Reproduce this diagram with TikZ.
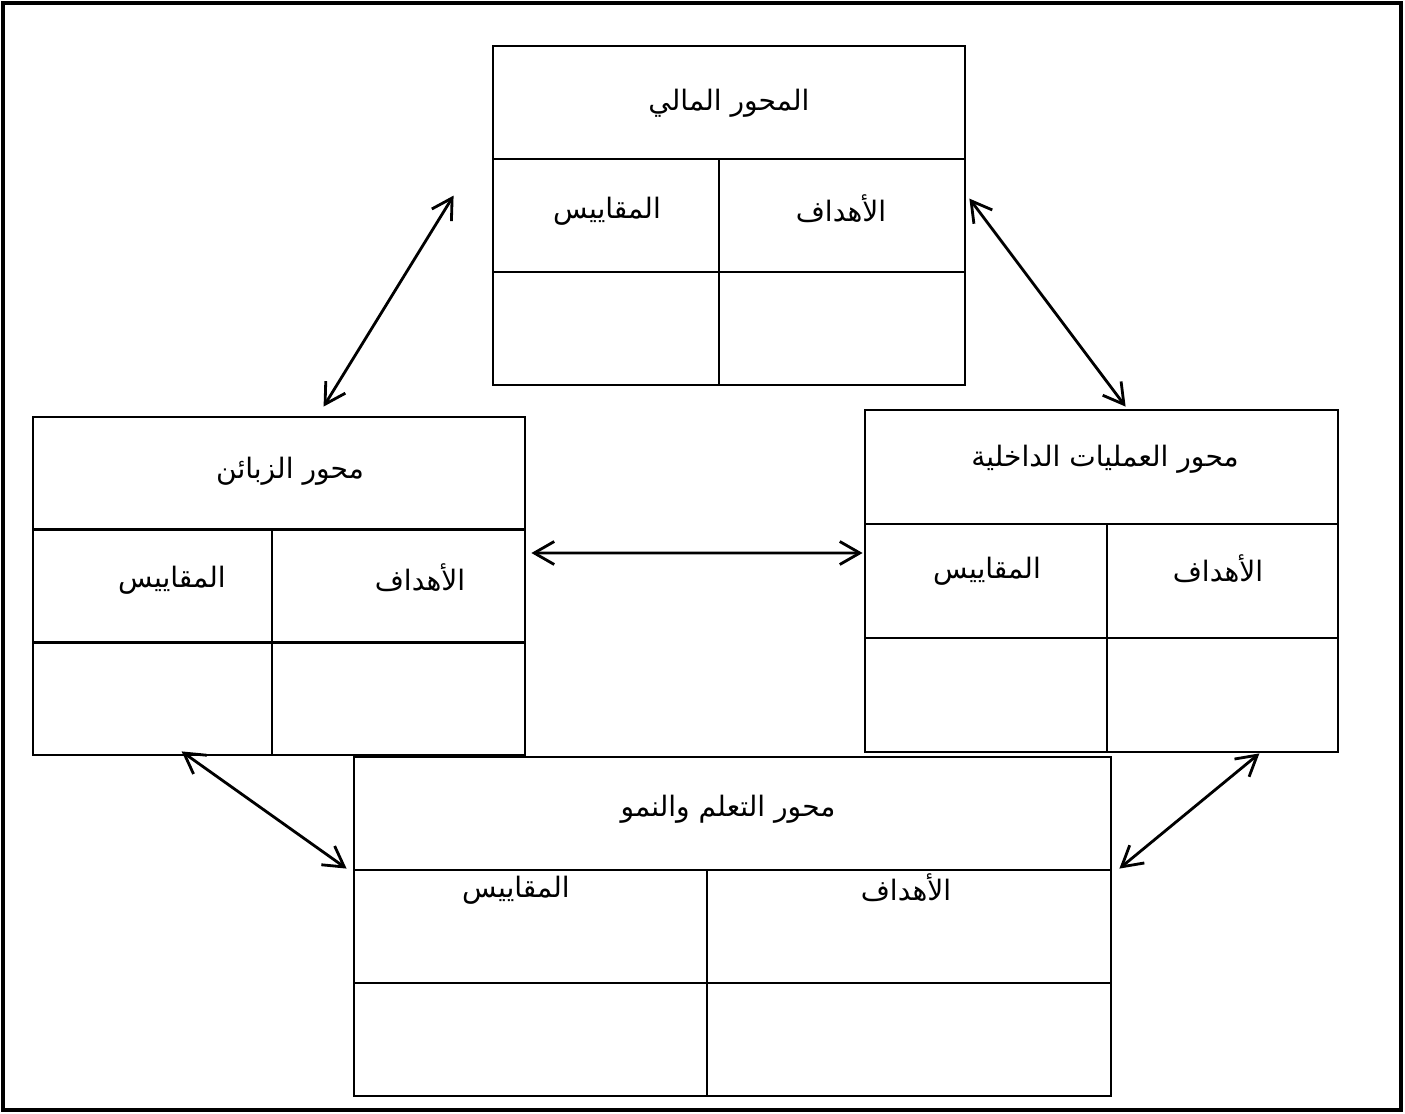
\documentclass[tikz,border=0pt]{standalone}
\usepackage{fontspec}
\newfontfamily\arabicfont[Script=Arabic]{DejaVu Sans}
\TeXXeTstate=1
\usetikzlibrary{arrows.meta}
\newcommand{\artext}[1]{{\arabicfont\fontsize{8}{9.5}\selectfont\beginR #1\endR}}

\begin{document}
\begin{tikzpicture}[line width=0.8pt,>={Straight Barb[length=2mm,width=2.3mm]}]
  \tikzset{axisbox/.style={draw,inner sep=0pt},
           lbl/.style={inner sep=1pt},
           link/.style={<->,line width=0.8pt}}
  \useasboundingbox (0,0) rectangle (14.05,11.13);
  \draw[line width=0.9pt] (0.03,0.03) rectangle (14.01,11.10);
  % the four axis tables
  \foreach \n/\cx/\cy/\w/\h/\dx in {fin/7.29/8.975/4.72/3.39/7.19,
      cust/2.79/5.27/4.92/3.38/2.72, int/11.015/5.32/4.73/3.42/11.07,
      learn/7.325/1.865/7.57/3.39/7.07}{
    \node[axisbox,minimum width=\w cm,minimum height=\h cm] (\n) at (\cx,\cy) {};
    \draw ({\cx-\w/2},{\cy+\h/6}) -- ({\cx+\w/2},{\cy+\h/6});
    \draw ({\cx-\w/2},{\cy-\h/6}) -- ({\cx+\w/2},{\cy-\h/6});
    \draw ({\dx},{\cy+\h/6}) -- ({\dx},{\cy-\h/2});
  }
  % titles
  \node[lbl] (finT) at (7.29,10.10) {\artext{المحور المالي}};
  \node[lbl] (custT) at (2.90,6.42) {\artext{محور الزبائن}};
  \node[lbl] (intT) at (11.05,6.54) {\artext{محور العمليات الداخلية}};
  \node[lbl] (learnT) at (7.28,3.04) {\artext{محور التعلم والنمو}};
  % headers
  \node[lbl] (finG) at (8.41,9.04) {\artext{الأهداف}};
  \node[lbl] (finM) at (6.07,9.02) {\artext{المقاييس}};
  \node[lbl] (custG) at (4.20,5.35) {\artext{الأهداف}};
  \node[lbl] (custM) at (1.72,5.33) {\artext{المقاييس}};
  \node[lbl] (intG) at (12.18,5.44) {\artext{الأهداف}};
  \node[lbl] (intM) at (9.87,5.42) {\artext{المقاييس}};
  \node[lbl] (learnG) at (9.06,2.25) {\artext{الأهداف}};
  \node[lbl] (learnM) at (5.16,2.23) {\artext{المقاييس}};
  % links
  \draw[link] ([shift={(-0.38,-1.51)}]fin.north west) -- ([shift={(2.92,0.09)}]cust.north west);
  \draw[link] ([shift={(0.03,-1.54)}]fin.north east) -- ([shift={(2.62,0.02)}]int.north west);
  \draw[link] ([shift={(0.05,0.33)}]cust.east) -- ([shift={(-0.01,0.28)}]int.west);
  \draw[link] ([shift={(1.50,0.05)}]cust.south west) -- ([shift={(-0.06,-1.13)}]learn.north west);
  \draw[link] ([shift={(-0.80,0)}]int.south east) -- ([shift={(0.07,-1.13)}]learn.north east);
\end{tikzpicture}
\end{document}
